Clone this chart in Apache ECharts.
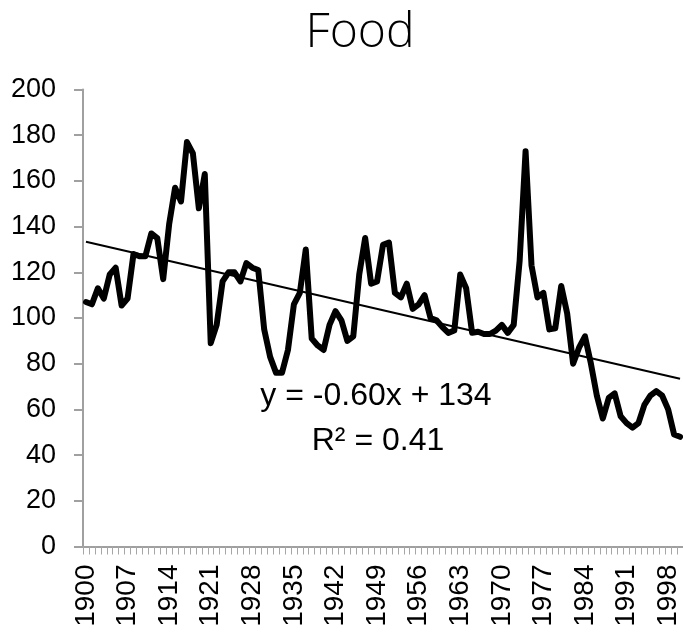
<!DOCTYPE html>
<html>
<head>
<meta charset="utf-8">
<script src="https://cdn.jsdelivr.net/npm/echarts@6/dist/echarts.min.js"></script>
<style>
html,body{margin:0;padding:0;background:#fff;}
#chart{width:683px;height:633px;}
</style>
</head>
<body>
<div id="chart"></div>
<script>
const titleText = "Food";
const years = [];
for (let y = 1900; y <= 2000; y++) years.push(String(y));
const foodValues = [
  107, 106, 113, 108.5, 119, 122, 105.5, 108.5, 128, 127,
  127, 137, 135, 117, 141, 157, 151, 177, 172, 148,
  163, 89, 97, 116, 120, 120, 116, 124, 122, 121,
  95, 83, 76, 76, 86, 106, 111, 130, 91, 88,
  86, 97, 103, 99, 90, 92, 119, 135, 115, 116,
  132, 133, 111, 109, 115, 104, 106, 110, 100, 99,
  96, 93.5, 94.5, 119, 113, 93.5, 94, 93, 93, 94.5,
  97, 93.5, 97, 125, 173, 123, 109, 111, 95, 95.5,
  114, 102, 80, 87, 92, 80, 66, 56, 65, 67,
  57, 54, 52, 54, 62, 66, 68, 66, 60, 49,
  48
];
const trendSlope = -0.60;
const trendIntercept = 134;
const equationLines = ["y = -0.60x + 134", "R\u00b2 = 0.41"];
const yTicks = [0, 20, 40, 60, 80, 100, 120, 140, 160, 180, 200];

const n = foodValues.length;
const trendStart = trendIntercept + trendSlope * 1;
const trendEnd = trendIntercept + trendSlope * n;

const chart = echarts.init(document.getElementById('chart'), null, {renderer: 'canvas'});
const labelFont = "'Liberation Sans', Arial, sans-serif";
chart.setOption({
  animation: false,
  backgroundColor: '#ffffff',
  title: {
    text: titleText,
    left: 355,
    top: 4,
    textAlign: 'center',
    textStyle: {
      fontFamily: "'Open Sans', sans-serif",
      fontWeight: 300,
      fontSize: 48,
      color: '#000'
    }
  },
  grid: {left: 83, right: 0, top: 89.5, bottom: 86.5, containLabel: false},
  xAxis: {
    type: 'category',
    data: years,
    boundaryGap: true,
    axisLine: {show: true, lineStyle: {color: '#a0a0a0', width: 2}},
    axisTick: {show: true, interval: 0, length: 8, lineStyle: {color: '#a6a6a6', width: 1}},
    axisLabel: {
      interval: 6,
      rotate: 90,
      margin: 18,
      fontSize: 28,
      fontFamily: labelFont,
      color: '#000'
    },
    splitLine: {show: false}
  },
  yAxis: {
    type: 'value',
    min: yTicks[0],
    max: yTicks[yTicks.length - 1],
    interval: 20,
    axisLine: {show: true, lineStyle: {color: '#a0a0a0', width: 2}},
    axisTick: {show: true, length: 9, lineStyle: {color: '#a0a0a0', width: 2}},
    axisLabel: {
      margin: 27,
      fontSize: 27,
      fontFamily: labelFont,
      color: '#000'
    },
    splitLine: {show: false}
  },
  series: [
    {
      type: 'line',
      data: foodValues,
      symbol: 'none',
      lineStyle: {color: '#000', width: 6, join: 'round', cap: 'round'},
      z: 3,
      markLine: {
        silent: true,
        symbol: ['none', 'none'],
        label: {show: false},
        lineStyle: {color: '#000', width: 2, type: 'solid'},
        data: [[
          {coord: [0, trendStart]},
          {coord: [n - 1, trendEnd]}
        ]]
      }
    }
  ],
  graphic: [
    {
      type: 'text',
      x: 376, y: 396,
      style: {
        text: equationLines[0],
        fontSize: 32,
        fontFamily: labelFont,
        fill: '#000',
        align: 'center',
        verticalAlign: 'middle'
      },
      z: 10
    },
    {
      type: 'text',
      x: 378, y: 441,
      style: {
        text: equationLines[1],
        fontSize: 32,
        fontFamily: labelFont,
        fill: '#000',
        align: 'center',
        verticalAlign: 'middle'
      },
      z: 10
    }
  ]
});
</script>
</body>
</html>
